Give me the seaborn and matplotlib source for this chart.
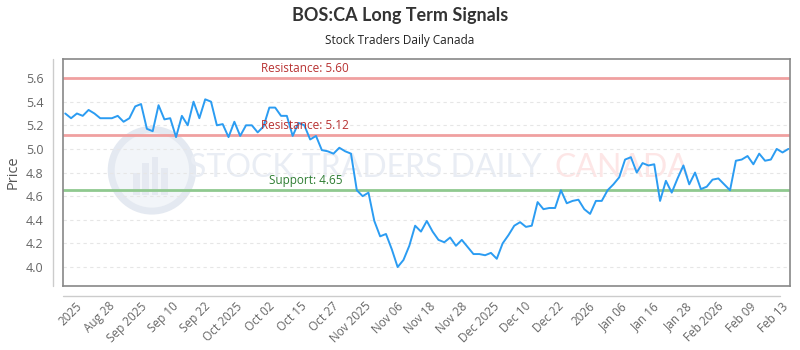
import numpy as np
import pandas as pd
import matplotlib
matplotlib.use("Agg")
import matplotlib.pyplot as plt
import matplotlib.transforms as mtransforms
from matplotlib.patches import Ellipse, Rectangle
from matplotlib.lines import Line2D
import seaborn as sns

# Ціни закриття
prices = [
    5.30, 5.26, 5.30, 5.28, 5.33, 5.30, 5.26, 5.26, 5.26, 5.28,
    5.23, 5.26, 5.36, 5.38, 5.17, 5.15, 5.37, 5.25, 5.26, 5.10,
    5.28, 5.20, 5.40, 5.26, 5.42, 5.40, 5.20, 5.21, 5.10, 5.23,
    5.11, 5.20, 5.20, 5.14, 5.19, 5.35, 5.35, 5.28, 5.28, 5.11,
    5.22, 5.20, 5.08, 5.11, 4.99, 4.98, 4.96, 5.01, 4.98, 4.96,
    4.65, 4.60, 4.63, 4.39, 4.26, 4.28, 4.15, 4.00, 4.06, 4.18,
    4.35, 4.30, 4.39, 4.30, 4.23, 4.21, 4.25, 4.18, 4.23, 4.17,
    4.11, 4.11, 4.10, 4.12, 4.07, 4.20, 4.27, 4.35, 4.38, 4.34,
    4.35, 4.55, 4.49, 4.50, 4.50, 4.65, 4.54, 4.56, 4.57, 4.49,
    4.45, 4.56, 4.56, 4.65, 4.70, 4.76, 4.91, 4.93, 4.80, 4.88,
    4.86, 4.87, 4.56, 4.73, 4.63, 4.75, 4.86, 4.70, 4.80, 4.66,
    4.68, 4.74, 4.75, 4.70, 4.65, 4.90, 4.91, 4.94, 4.87, 4.96,
    4.90, 4.91, 5.00, 4.97, 5.00,
]

tick_labels = [
    "2025", "Aug 28", "Sep 2025", "Sep 10", "Sep 22", "Oct 2025", "Oct 02",
    "Oct 15", "Oct 27", "Nov 2025", "Nov 06", "Nov 18", "Nov 28", "Dec 2025",
    "Dec 10", "Dec 22", "2026", "Jan 06", "Jan 16", "Jan 28", "Feb 2026",
    "Feb 09", "Feb 13",
]

resistance_levels = [5.60, 5.12]
support_level = 4.65

df = pd.DataFrame({"idx": np.arange(len(prices)), "price": prices})

sns.set_theme(style="white")
plt.rcParams["font.family"] = ["Open Sans", "DejaVu Sans"]

fig = plt.figure(figsize=(8, 3.5), dpi=100)
ax = fig.add_axes([0.079, 0.183, 0.909, 0.648])

# Водяний знак (логотип + текст)
ax.add_patch(Ellipse((0.122, 0.51), 0.112, 0.36, transform=ax.transAxes, facecolor="#f2f5f9",
                     edgecolor="#e4e9f1", lw=5, zorder=0))
for bx, bh in [(0.100, 0.10), (0.113, 0.14), (0.126, 0.17), (0.139, 0.12)]:
    ax.add_patch(Rectangle((bx - 0.004, 0.40), 0.009, bh, transform=ax.transAxes,
                           facecolor="#e5e9f1", edgecolor="none", zorder=0))
watermark_font = ["Lato", "DejaVu Sans"]
ax.text(0.415, 0.52, "STOCK TRADERS DAILY", transform=ax.transAxes, ha="center", va="center",
        fontsize=23, color="#e9edf4", family=watermark_font, zorder=0)
ax.text(0.769, 0.52, "CANADA", transform=ax.transAxes, ha="center", va="center",
        fontsize=23, color="#fde6e6", family=watermark_font, zorder=0)

# Рівні опору та підтримки
trans = mtransforms.blended_transform_factory(ax.transAxes, ax.transData)
for lvl in resistance_levels:
    ax.axhline(lvl, color="#f0a0a0", lw=2, zorder=2)
    ax.text(0.333, lvl + 0.025, f"Resistance: {lvl:.2f}", transform=trans, ha="center",
            va="bottom", fontsize=8.5, color="#b83232", zorder=4)
ax.axhline(support_level, color="#8fc98f", lw=2, zorder=2)
ax.text(0.333, support_level + 0.025, f"Support: {support_level:.2f}", transform=trans,
        ha="center", va="bottom", fontsize=8.5, color="#2e7d32", zorder=4)

sns.lineplot(data=df, x="idx", y="price", color="#2b9cf2", lw=1.4, ax=ax, zorder=3)

ax.set_xlim(-0.35, len(prices) - 1 + 0.35)
ax.set_ylim(3.84, 5.76)
ax.set_yticks(np.arange(4.0, 5.61, 0.2))
ax.set_yticklabels([f"{v:.1f}" for v in np.arange(4.0, 5.61, 0.2)])
ax.yaxis.grid(True, color="#e6e6e6", ls=(0, (3, 3)), lw=0.8)
ax.xaxis.grid(False)

ax.set_xticks(np.linspace(1.8, len(prices) - 2.2, len(tick_labels)))
ax.set_xticklabels(tick_labels, rotation=45, ha="right", rotation_mode="anchor")
ax.tick_params(axis="x", length=0, pad=10, labelsize=8.5, labelcolor="#666666")
ax.tick_params(axis="y", length=0, pad=14, labelsize=9, labelcolor="#666666")

ax.set_xlabel("")
ax.set_ylabel("Price", fontsize=10.5, color="#555555", labelpad=4)

for s in ax.spines.values():
    s.set_color("#888888")
    s.set_linewidth(1.2)

# Додаткові лінії осей (зміщені)
fig.add_artist(Line2D([0.066, 0.066], [0.183, 0.831], transform=fig.transFigure,
                      color="#cccccc", lw=1))
fig.add_artist(Line2D([0.079, 0.975], [0.154, 0.154], transform=fig.transFigure,
                      color="#cccccc", lw=1))

fig.text(0.5, 0.955, "BOS:CA Long Term Signals", ha="center", va="center", fontsize=13,
         fontweight="bold", color="#333333", family=["Lato", "DejaVu Sans"])
fig.text(0.5, 0.885, "Stock Traders Daily Canada", ha="center", va="center", fontsize=8.5,
         color="#222222")

fig.savefig("out.png", dpi=100)
